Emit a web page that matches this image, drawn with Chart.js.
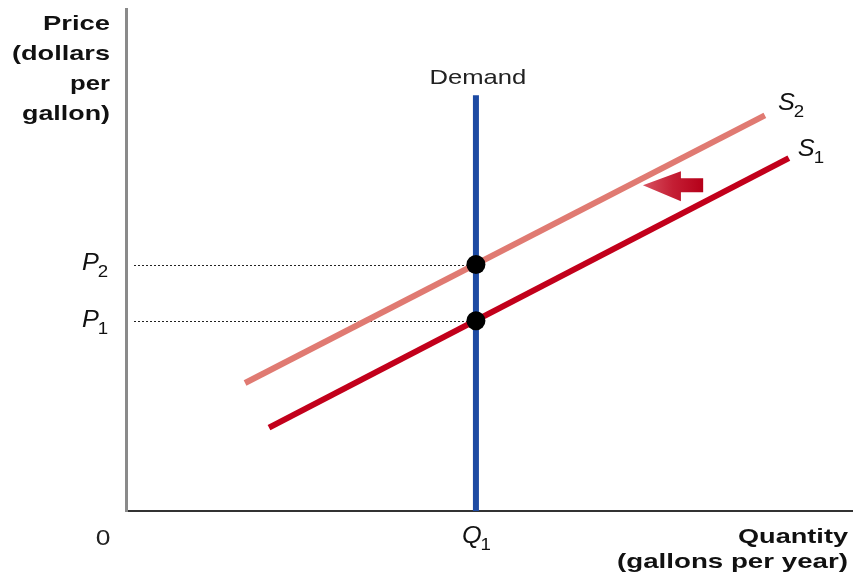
<!DOCTYPE html>
<html>
<head>
<meta charset="utf-8">
<script src="https://cdn.jsdelivr.net/npm/chart.js@4/dist/chart.umd.min.js"></script>
<style>
  html, body { margin: 0; padding: 0; background: #ffffff; }
  canvas { display: block; }
</style>
</head>
<body>
<canvas id="chart" width="853" height="582"></canvas>
<script>
// Gasoline market: perfectly inelastic demand, supply shifts left from S1 to S2.
const quantityQ1 = 48.2;
const priceP1 = 37.9;
const priceP2 = 49.1;
const demandPrice = [0, 82.8];
const supply1Quantity = [19.7, 91.3];
const supply1Price = [16.6, 70.3];
const supply2Quantity = [16.4, 88.0];
const supply2Price = [25.5, 78.8];
const shiftArrowQuantity = [79.5, 71.2]; // tail, tip
const shiftArrowPrice = 64.9;
const priceTitle = ['Price', '(dollars', 'per', 'gallon)'];
const quantityTitle = ['Quantity', '(gallons per year)'];

const SANS = '"Liberation Sans", Arial, Helvetica, sans-serif';
const STRETCH = 1.22;

function drawText(ctx, str, x, y, font, align, sx, color) {
  ctx.save();
  ctx.font = font;
  ctx.fillStyle = color || '#111';
  ctx.textAlign = align;
  ctx.textBaseline = 'alphabetic';
  ctx.translate(x, y);
  ctx.scale(sx, 1);
  ctx.fillText(str, 0, 0);
  ctx.restore();
}

function drawFitted(ctx, str, right, y, font, width) {
  ctx.save();
  ctx.font = font;
  const sx = width / ctx.measureText(str).width;
  ctx.restore();
  drawText(ctx, str, right, y, font, 'right', sx, '#111');
}

// Symbol with a subscript, e.g. P with 1
function drawSymbol(ctx, main, sub, left, baseline) {
  const mainFont = 'italic 23px ' + SANS;
  ctx.save();
  ctx.font = mainFont;
  const w = ctx.measureText(main).width * 1.1;
  ctx.restore();
  drawText(ctx, main, left, baseline, mainFont, 'left', 1.1, '#111');
  drawText(ctx, sub, left + w - 1, baseline + 7, '17px ' + SANS, 'left', 1.1, '#111');
}

const guidesPlugin = {
  id: 'guides',
  beforeDatasetsDraw(chart) {
    const { ctx, scales: { x, y } } = chart;
    const qx = x.getPixelForValue(quantityQ1);
    ctx.save();
    ctx.strokeStyle = '#222';
    ctx.lineWidth = 1;
    ctx.setLineDash([2, 2]);
    [priceP1, priceP2].forEach(p => {
      const py = Math.round(y.getPixelForValue(p)) + 0.5;
      ctx.beginPath();
      ctx.moveTo(x.left + 8, py);
      ctx.lineTo(qx - 6, py);
      ctx.stroke();
    });
    ctx.restore();
  }
};

const annotationsPlugin = {
  id: 'annotations',
  afterDatasetsDraw(chart) {
    const { ctx, scales: { x, y } } = chart;

    // Shift arrow (S1 -> S2), shaded from the tail to the tip
    const tailX = x.getPixelForValue(shiftArrowQuantity[0]);
    const tipX = x.getPixelForValue(shiftArrowQuantity[1]);
    const ay = y.getPixelForValue(shiftArrowPrice);
    const headBase = tipX + 38;
    const grad = ctx.createLinearGradient(tipX, 0, tailX, 0);
    grad.addColorStop(0, '#d85260');
    grad.addColorStop(0.5, '#c41e34');
    grad.addColorStop(1, '#b50019');
    ctx.save();
    ctx.fillStyle = grad;
    ctx.beginPath();
    ctx.moveTo(tipX, ay);
    ctx.lineTo(headBase, ay - 14);
    ctx.lineTo(headBase, ay - 7);
    ctx.lineTo(tailX, ay - 7);
    ctx.lineTo(tailX, ay + 7);
    ctx.lineTo(headBase, ay + 7);
    ctx.lineTo(headBase, ay + 16);
    ctx.closePath();
    ctx.fill();
    ctx.restore();

    // Axis titles
    const tFont = 'bold 21px ' + SANS;
    const pWidths = [67, 98, 40, 88];
    priceTitle.forEach((line, i) => {
      drawFitted(ctx, line, 110, 30 + i * 30, tFont, pWidths[i]);
    });
    const qWidths = [110, 231];
    quantityTitle.forEach((line, i) => {
      drawFitted(ctx, line, 848, 543 + i * 25, tFont, qWidths[i]);
    });

    // Origin
    drawText(ctx, '0', 103, 545, '22px ' + SANS, 'center', 1.2, '#222');

    // Demand label
    const qx = x.getPixelForValue(quantityQ1);
    const dTop = y.getPixelForValue(demandPrice[1]);
    drawText(ctx, 'Demand', qx + 2, dTop - 11, '21px ' + SANS, 'center', STRETCH, '#222');

    // Price and quantity symbols
    drawSymbol(ctx, 'P', '2', 82, y.getPixelForValue(priceP2) + 5);
    drawSymbol(ctx, 'P', '1', 82, y.getPixelForValue(priceP1) + 6);
    drawSymbol(ctx, 'Q', '1', qx - 14, y.bottom + 32);

    // Supply curve labels next to their upper ends
    const s2x = x.getPixelForValue(supply2Quantity[1]);
    const s2y = y.getPixelForValue(supply2Price[1]);
    drawSymbol(ctx, 'S', '2', s2x + 13, s2y - 5);
    const s1x = x.getPixelForValue(supply1Quantity[1]);
    const s1y = y.getPixelForValue(supply1Price[1]);
    drawSymbol(ctx, 'S', '1', s1x + 9, s1y - 2);
  }
};

const toPoints = (xs, ys) => xs.map((v, i) => ({ x: v, y: ys[i] }));

new Chart(document.getElementById('chart'), {
  type: 'scatter',
  data: {
    datasets: [
      {
        label: 'Equilibria',
        data: toPoints([quantityQ1, quantityQ1], [priceP2, priceP1]),
        pointRadius: 9.5,
        pointHoverRadius: 9.5,
        pointBackgroundColor: '#000',
        pointBorderWidth: 0,
        showLine: false
      },
      {
        label: 'Demand',
        data: toPoints([quantityQ1, quantityQ1], demandPrice),
        showLine: true,
        borderColor: '#1d4aa3',
        borderWidth: 6,
        pointRadius: 0
      },
      {
        label: 'S2',
        data: toPoints(supply2Quantity, supply2Price),
        showLine: true,
        borderColor: '#e07a72',
        borderWidth: 6,
        pointRadius: 0
      },
      {
        label: 'S1',
        data: toPoints(supply1Quantity, supply1Price),
        showLine: true,
        borderColor: '#c2001b',
        borderWidth: 6,
        pointRadius: 0
      }
    ]
  },
  options: {
    responsive: false,
    animation: false,
    events: [],
    layout: { autoPadding: false, padding: { left: 126, right: 1, top: 9, bottom: 71 } },
    plugins: { legend: { display: false }, tooltip: { enabled: false } },
    scales: {
      x: {
        type: 'linear', min: 0, max: 100,
        ticks: { display: false },
        grid: { display: false, drawTicks: false },
        border: { display: true, color: '#333', width: 2 }
      },
      y: {
        type: 'linear', min: 0, max: 100,
        ticks: { display: false },
        grid: { display: false, drawTicks: false },
        border: { display: true, color: '#8a8a8a', width: 3 }
      }
    }
  },
  plugins: [guidesPlugin, annotationsPlugin]
});
</script>
</body>
</html>
